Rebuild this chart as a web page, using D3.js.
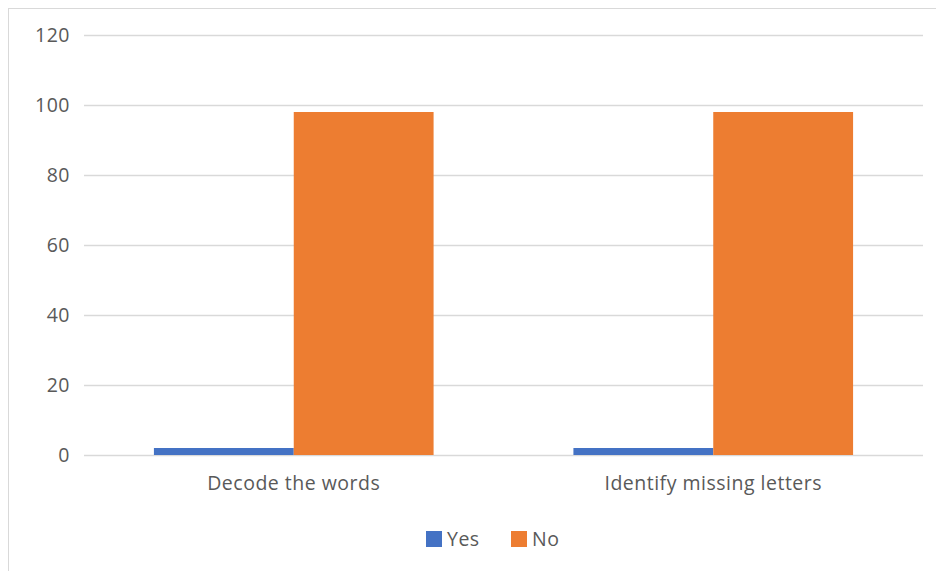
<!DOCTYPE html>
<html>
<head>
<meta charset="utf-8">
<script src="https://cdn.jsdelivr.net/npm/d3@7"></script>
<style>
  html, body { margin: 0; padding: 0; background: #fff; }
  svg { display: block; }
  text { font-family: "Open Sans", "Liberation Sans", sans-serif; fill: #595959; letter-spacing: 0.5px; }
</style>
</head>
<body>
<svg id="chart" width="936" height="571"></svg>
<script>
// Survey responses per task
const categories = ["Decode the words", "Identify missing letters"];
const seriesNames = ["Yes", "No"];
const yesValues = [2, 2];
const noValues = [98, 98];
const yTicks = [0, 20, 40, 60, 80, 100, 120];
const colors = ["#4472C4", "#ED7D31"];

const svg = d3.select("#chart");
const W = 936, H = 571;
const plot = { left: 84, right: 923, top: 35, bottom: 455 };
const fontSize = 19.5;

// Outer chart frame
svg.append("rect")
  .attr("x", 8.5).attr("y", 8.5)
  .attr("width", W + 20).attr("height", H + 20)
  .attr("fill", "#fff").attr("stroke", "#d9d9d9").attr("stroke-width", 1);

const x0 = d3.scaleBand().domain(categories).range([plot.left, plot.right]).paddingInner(0).paddingOuter(0);
const x1 = d3.scaleBand().domain(seriesNames).range([0, x0.bandwidth()]).paddingInner(0).paddingOuter(0.5);
const y = d3.scaleLinear().domain([0, 120]).range([plot.bottom, plot.top]);
const color = d3.scaleOrdinal().domain(seriesNames).range(colors);

// Horizontal gridlines with value labels
const yAxis = d3.axisLeft(y).tickValues(yTicks).tickSize(-(plot.right - plot.left)).tickPadding(14);
const gy = svg.append("g").attr("transform", `translate(${plot.left},0)`).call(yAxis);
gy.select(".domain").remove();
gy.selectAll(".tick line").attr("stroke", "#d9d9d9").attr("stroke-width", 1.5);
gy.selectAll(".tick text")
  .attr("font-size", fontSize).attr("x", -14)
  .style("font-family", "'Open Sans', sans-serif").attr("fill", "#595959");

// Bars
const rows = categories.map((c, i) => ({ category: c, values: [yesValues[i], noValues[i]] }));
const groups = svg.append("g").selectAll("g").data(rows).join("g")
  .attr("transform", d => `translate(${x0(d.category)},0)`);
groups.selectAll("rect")
  .data(d => d.values.map((v, j) => ({ key: seriesNames[j], value: v })))
  .join("rect")
  .attr("x", d => x1(d.key))
  .attr("width", x1.bandwidth())
  .attr("y", d => y(d.value))
  .attr("height", d => y(0) - y(d.value))
  .attr("fill", d => color(d.key));

// Category labels
const xAxis = d3.axisBottom(x0).tickSize(0).tickPadding(21);
const gx = svg.append("g").attr("transform", `translate(0,${plot.bottom})`).call(xAxis);
gx.select(".domain").remove();
gx.selectAll(".tick text")
  .attr("font-size", fontSize)
  .style("font-family", "'Open Sans', sans-serif").attr("fill", "#595959");

// Legend
const legendItems = [{ name: "Yes", x: 426 }, { name: "No", x: 511 }];
const lg = svg.append("g").selectAll("g").data(legendItems).join("g")
  .attr("transform", d => `translate(${d.x},531)`);
lg.append("rect").attr("width", 16).attr("height", 16).attr("fill", d => color(d.name));
lg.append("text").attr("x", 21).attr("y", 8).attr("dy", "0.35em")
  .attr("font-size", fontSize).text(d => d.name);
</script>
</body>
</html>
